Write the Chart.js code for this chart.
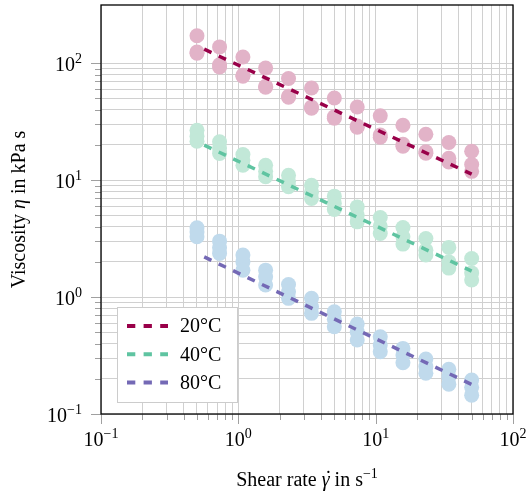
<!DOCTYPE html>
<html>
<head>
<meta charset="utf-8">
<script src="https://cdn.jsdelivr.net/npm/chart.js@4.4.1/dist/chart.umd.min.js"></script>
<style>
html, body { margin: 0; padding: 0; background: #fff; }
#wrap { width: 529px; height: 494px; }
</style>
</head>
<body>
<div id="wrap"><canvas id="grafico"></canvas></div>
<script>
// shear rates (1/s)
const shearRate = [0.5, 0.73, 1.08, 1.58, 2.32, 3.41, 5, 7.34, 10.8, 15.8, 23.2, 34.1, 50];

// viscosity in kPa s, three runs per temperature
const eta20a = [172, 138, 113, 91, 74, 61.5, 50.5, 42.3, 35.5, 29.5, 24.7, 21.0, 17.7];
const eta20b = [125, 97, 79, 63.6, 52.2, 42.3, 34.8, 29.1, 24.3, 20.3, 17.5, 15.4, 13.6];
const eta20c = [122, 93, 77.4, 62.4, 51.2, 41.2, 33.9, 28.4, 23.3, 19.5, 17.0, 14.3, 11.9];

const eta40a = [26.7, 21.3, 16.6, 13.4, 11.0, 9.06, 7.3, 5.91, 4.80, 3.94, 3.17, 2.66, 2.14];
const eta40b = [23.8, 18.8, 14.8, 11.9, 9.8, 7.9, 6.36, 5.02, 4.04, 3.28, 2.52, 2.00, 1.61];
const eta40c = [21.5, 16.9, 13.4, 10.7, 8.8, 6.98, 5.62, 4.40, 3.50, 2.84, 2.29, 1.77, 1.40];

const eta80a = [3.91, 3.01, 2.29, 1.70, 1.28, 0.975, 0.749, 0.588, 0.458, 0.364, 0.295, 0.241, 0.195];
const eta80b = [3.61, 2.64, 2.00, 1.49, 1.11, 0.826, 0.645, 0.505, 0.389, 0.319, 0.254, 0.208, 0.169];
const eta80c = [3.28, 2.36, 1.70, 1.27, 0.975, 0.726, 0.557, 0.429, 0.341, 0.274, 0.223, 0.180, 0.145];

// power-law fit lines (end points)
const fitX = [0.5, 50];
const fit20 = [141, 11.25];
const fit40 = [21.3, 1.67];
const fit80 = [2.36, 0.179];

const temps = ['20°C', '40°C', '80°C'];
const decades = [0.1, 1, 10, 100];
const decadeExp = ['−1', '0', '1', '2'];

const SERIF = '"Liberation Serif", "Times New Roman", serif';
Chart.defaults.font.family = SERIF;
Chart.defaults.font.size = 20;
Chart.defaults.color = '#000';

function logTicks(scale) {
    const t = [];
    decades.forEach((d, i) => {
        t.push({ value: d, major: true });
        if (i < decades.length - 1) {
            for (let m = 2; m <= 9; m++) t.push({ value: m * d, major: false });
        }
    });
    scale.ticks = t;
}

const pointSet = (label, color, a, b, c) => ({
    label,
    data: shearRate.flatMap((x, i) => [{ x, y: a[i] }, { x, y: b[i] }, { x, y: c[i] }]),
    backgroundColor: color,
    borderWidth: 0,
    pointRadius: 7.5,
    order: 2
});
const fitSet = (label, color, ys) => ({
    label,
    fit: true,
    data: fitX.map((x, i) => ({ x, y: ys[i] })),
    showLine: true,
    borderColor: color,
    borderWidth: 3.5,
    borderDash: [8, 8],
    borderDashOffset: 8,
    pointRadius: 0,
    order: 1
});

// text made of pieces: [text, size, italic, raise, accent]
function drawPieces(ctx, pieces, x, y, align) {
    const font = p => (p[2] ? 'italic ' : '') + p[1] + 'px ' + SERIF;
    let w = 0;
    pieces.forEach(p => { ctx.font = font(p); w += ctx.measureText(p[0]).width; });
    let cx = align === 'right' ? x - w : align === 'center' ? x - w / 2 : x;
    ctx.textAlign = 'left';
    ctx.textBaseline = 'alphabetic';
    pieces.forEach(p => {
        ctx.font = font(p);
        ctx.fillText(p[0], cx, y - (p[3] || 0));
        const pw = ctx.measureText(p[0]).width;
        if (p[4]) ctx.fillText(p[4], cx + pw * 0.5 - ctx.measureText(p[4]).width * 0.5 + 1.5, y - 1);
        cx += pw;
    });
}

const framePlugin = {
    id: 'frame',
    afterDraw(chart) {
        const { ctx, chartArea: a, scales: { x, y } } = chart;
        ctx.save();
        // tick marks outside the box
        ctx.strokeStyle = '#a0a0a0';
        ctx.lineWidth = 1;
        ctx.beginPath();
        x.ticks.forEach(t => {
            const px = Math.round(x.getPixelForValue(t.value)) + 0.5;
            ctx.moveTo(px, a.bottom);
            ctx.lineTo(px, a.bottom + (t.major ? 10 : 6));
        });
        y.ticks.forEach(t => {
            const py = Math.round(y.getPixelForValue(t.value)) + 0.5;
            ctx.moveTo(a.left, py);
            ctx.lineTo(a.left - (t.major ? 10 : 6), py);
        });
        ctx.stroke();

        // tick labels 10^n
        ctx.fillStyle = '#000';
        decades.forEach((d, i) => {
            const px = x.getPixelForValue(d);
            drawPieces(ctx, [['10', 20], [decadeExp[i], 14, false, 8]], px, a.bottom + 31.5, 'center');
            const py = y.getPixelForValue(d);
            drawPieces(ctx, [['10', 20], [decadeExp[i], 14, false, 8]], a.left - 19, py + 8, 'right');
        });

        // axis titles
        drawPieces(ctx, [['Shear rate ', 20], ['γ', 20, true, 0, '˙'], [' in s', 20], ['−1', 14, false, 8]],
            (a.left + a.right) / 2, 486, 'center');
        ctx.save();
        ctx.translate(25, (a.top + a.bottom) / 2);
        ctx.rotate(-Math.PI / 2);
        drawPieces(ctx, [['Viscosity ', 20], ['η', 20, true], [' in kPa s', 20]], 0, 0, 'center');
        ctx.restore();

        // legend
        const fits = chart.data.datasets.filter(d => d.fit);
        const lx = 117, ly = 307, lw = 120, lh = 95;
        ctx.fillStyle = '#fff';
        ctx.fillRect(lx, ly, lw, lh);
        ctx.strokeStyle = '#cccccc';
        ctx.lineWidth = 1;
        ctx.strokeRect(lx + 0.5, ly + 0.5, lw, lh);
        ctx.font = '20px ' + SERIF;
        ctx.textBaseline = 'middle';
        ctx.textAlign = 'left';
        fits.forEach((d, i) => {
            const yy = ly + 19 + i * 28.3;
            ctx.strokeStyle = d.borderColor;
            ctx.lineWidth = 4;
            ctx.setLineDash([8.3, 8.3]);
            ctx.beginPath();
            ctx.moveTo(127, yy);
            ctx.lineTo(168, yy);
            ctx.stroke();
            ctx.setLineDash([]);
            ctx.fillStyle = '#000';
            ctx.fillText(d.label, 180, yy + 1);
        });

        // box
        ctx.strokeStyle = '#000';
        ctx.lineWidth = 1.3;
        ctx.strokeRect(a.left, a.top, a.right - a.left, a.bottom - a.top);
        ctx.restore();
    }
};

new Chart(document.getElementById('grafico'), {
    type: 'scatter',
    data: {
        datasets: [
            fitSet(temps[0], '#990049', fit20),
            fitSet(temps[1], '#5fc4a1', fit40),
            fitSet(temps[2], '#7469b5', fit80),
            pointSet(temps[0] + ' data', '#e2b3c8', eta20a, eta20b, eta20c),
            pointSet(temps[1] + ' data', '#c2e8d8', eta40a, eta40b, eta40c),
            pointSet(temps[2] + ' data', '#c0daec', eta80a, eta80b, eta80c)
        ]
    },
    options: {
        responsive: true,
        maintainAspectRatio: false,
        animation: false,
        layout: { autoPadding: false, padding: { top: 5, right: 16, left: 0, bottom: 0 } },
        plugins: { legend: { display: false }, tooltip: { enabled: false } },
        scales: {
            x: {
                type: 'logarithmic',
                min: 0.1, max: 100,
                afterBuildTicks: logTicks,
                afterFit: s => { s.height = 80; s.paddingLeft = 0; s.paddingRight = 0; },
                grid: { color: '#d0d0d0', drawTicks: false },
                border: { display: false },
                ticks: { display: false }
            },
            y: {
                type: 'logarithmic',
                min: 0.1, max: 315,
                afterBuildTicks: logTicks,
                afterFit: s => { s.width = 101; s.paddingTop = 0; s.paddingBottom = 0; },
                grid: { color: '#d0d0d0', drawTicks: false },
                border: { display: false },
                ticks: { display: false }
            }
        }
    },
    plugins: [framePlugin]
});
</script>
</body>
</html>
